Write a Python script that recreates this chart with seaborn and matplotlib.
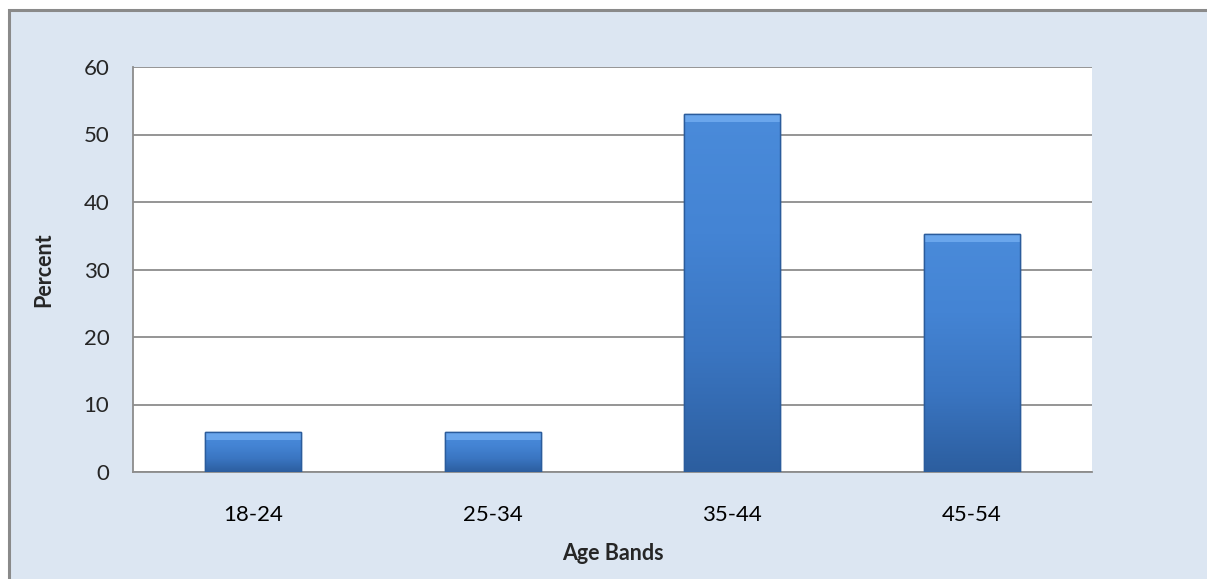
import matplotlib
matplotlib.use('Agg')
import matplotlib.pyplot as plt
import matplotlib.patches as mpatches
import numpy as np
import pandas as pd
import seaborn as sbn
from matplotlib.colors import LinearSegmentedColormap

age_bands = ['18-24', '25-34', '35-44', '45-54']
percent = [5.9, 5.9, 53.0, 35.3]
y_ticks = [0, 10, 20, 30, 40, 50, 60]

df = pd.DataFrame({'Age Bands': age_bands, 'Percent': percent})

sbn.set_style('white')
plt.rcParams['font.family'] = ['Lato', 'DejaVu Sans']

fig = plt.figure(figsize=(12.07, 5.79), dpi=100)
fig.patch.set_facecolor('white')

# outer chart frame (light blue panel with grey border)
frame = mpatches.Rectangle((8.5 / 1207, -0.05), 1.1, 1 - 9.5 / 579 + 0.05,
                           transform=fig.transFigure, facecolor='#DCE6F2',
                           edgecolor='#8A8A8A', linewidth=2.2, zorder=0)
fig.add_artist(frame)

ax = fig.add_axes([133 / 1207, 1 - 472 / 579, (1092 - 133) / 1207, (472 - 67) / 579])
ax.set_zorder(2)
ax.set_facecolor('white')

sbn.barplot(data=df, x='Age Bands', y='Percent', color='#3F7FCF', width=0.4,
            edgecolor='#2B5C9C', linewidth=1.0, ax=ax, zorder=3)

# vertical gradient on each bar, plus a light bevel strip on top
cmap = LinearSegmentedColormap.from_list('bev', ['#2C5E9F', '#3A75C1', '#4484D4', '#4A8BDA'])
grad = np.linspace(0, 1, 256).reshape(-1, 1)
for p in list(ax.patches):
    x0, y0 = p.get_x(), p.get_y()
    w, h = p.get_width(), p.get_height()
    im = ax.imshow(grad, extent=[x0, x0 + w, y0, y0 + h], origin='lower',
                   cmap=cmap, aspect='auto', zorder=3.5)
    im.set_clip_path(p)
    ax.add_patch(mpatches.Rectangle((x0, y0 + h - 1.2), w, 1.2, facecolor='#6AA6EC',
                                    edgecolor='none', zorder=3.8))
    ax.add_patch(mpatches.Rectangle((x0, y0), w, h, fill=False,
                                    edgecolor='#2B5C9C', linewidth=1.0, zorder=4))

ax.set_xlim(-0.5, len(age_bands) - 0.5)
ax.set_ylim(0, 60)
ax.set_yticks(y_ticks)
ax.set_aspect('auto')
ax.yaxis.grid(True, color='#8C8C8C', linewidth=1.3)
ax.set_axisbelow(True)

for s in ['top', 'right']:
    ax.spines[s].set_visible(False)
for s in ['left', 'bottom']:
    ax.spines[s].set_color('#8C8C8C')
    ax.spines[s].set_linewidth(1.3)

ax.set_xticks(np.arange(len(age_bands)))
ax.set_xticklabels(age_bands)
ax.set_xticks(np.arange(-0.5, len(age_bands)), minor=True)
ax.tick_params(axis='x', which='major', length=0, pad=24, labelsize=16, colors='black')
ax.tick_params(axis='x', which='minor', length=6, width=1.3, color='#8C8C8C', direction='out')
ax.tick_params(axis='y', length=5, width=1.3, color='#8C8C8C', direction='out',
               labelsize=16, pad=12)

ax.set_xlabel('Age Bands', fontsize=15.5, fontweight='bold', labelpad=13)
ax.set_ylabel('Percent', fontsize=15.5, fontweight='bold', labelpad=21)

fig.savefig('out.png', dpi=100)
